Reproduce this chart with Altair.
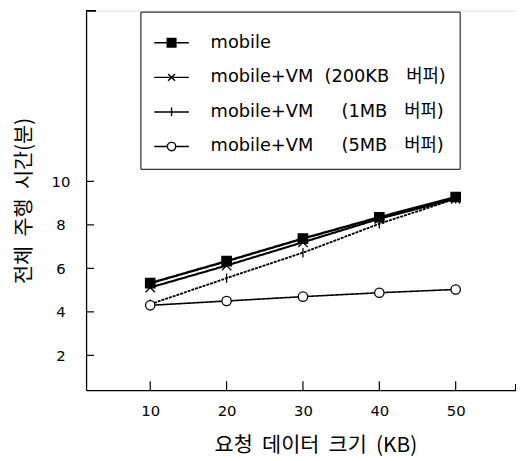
import altair as alt
import pandas as pd

NB = "\u00a0"
# ---- data ----
x_vals = [10, 20, 30, 40, 50]
series_names = [
    "mobile" + NB * 4,
    "mobile+VM" + NB * 2 + "(200KB" + NB * 3 + "버퍼)" + NB * 4,
    "mobile+VM" + NB * 5 + "(1MB" + NB * 3 + "버퍼)" + NB * 4,
    "mobile+VM" + NB * 5 + "(5MB" + NB * 3 + "버퍼)" + NB * 4,
]
mobile = [5.32, 6.33, 7.37, 8.35, 9.28]
vm_200kb = [5.12, 6.13, 7.2, 8.28, 9.2]
vm_1mb = [4.35, 5.55, 6.72, 8.05, 9.2]
vm_5mb = [4.3, 4.5, 4.7, 4.88, 5.03]
y_ticks = [2, 4, 6, 8, 10]
x_ticks = [10, 20, 30, 40, 50]
x_title = "요청" + NB * 2 + "데이터" + NB * 2 + "크기" + NB * 2 + "(KB)"
y_title = "전체" + NB * 2 + "주행" + NB * 2 + "시간(분)"

rows = []
for name, vals in zip(series_names, [mobile, vm_200kb, vm_1mb, vm_5mb]):
    for xv, yv in zip(x_vals, vals):
        rows.append({"series": name, "size": xv, "time": yv})
df = pd.DataFrame(rows)

W, H = 435, 384
FONT = "DejaVu Sans, Noto Sans CJK KR"
KFONT = "Noto Sans CJK KR"

xscale = alt.Scale(domain=[1.6, 57.9], nice=False, zero=False)
yscale = alt.Scale(domain=[0.4, 17.85], nice=False, zero=False)

X = alt.X("size:Q", scale=xscale,
          axis=alt.Axis(values=x_ticks, ticks=False, grid=False, domainColor="black",
                        domainWidth=1.3, labelFont=FONT, labelFontSize=15, labelColor="black",
                        labelPadding=14, title=x_title,
                        titleFont=KFONT, titleFontSize=21, titleFontWeight="normal",
                        titleColor="black", titleX=232, titleY=56, titleBaseline="middle"))
Y = alt.Y("time:Q", scale=yscale,
          axis=alt.Axis(values=y_ticks, ticks=False, grid=False, domainColor="black",
                        domainWidth=1.3, labelFont=FONT, labelFontSize=15, labelColor="black",
                        labelAlign="center", labelPadding=26, title=y_title,
                        titleFont=KFONT, titleFontSize=21, titleFontWeight="normal",
                        titleColor="black", titleX=-62, titleY=192, titleBaseline="middle"))

lines = alt.Chart(df).mark_line(color="black").encode(
    x=X, y=Y, detail="series:N",
    strokeWidth=alt.StrokeWidth("series:N", scale=alt.Scale(domain=series_names, range=[2.4, 1.6, 1.0, 1.5]), legend=None),
    strokeDash=alt.StrokeDash("series:N", scale=alt.Scale(domain=series_names, range=[[1, 0], [1, 0], [3, 1], [1, 0]]), legend=None),
)

marker_paths = [
    "M-1,-1L1,-1L1,1L-1,1Z",
    "M-1,-1L1,1M-1,1L1,-1",
    "M0,-1L0,1",
    "circle",
]
fills = ["black", "transparent", "transparent", "white"]
strokes = ["black", "black", "black", "black"]

points = alt.Chart(df).mark_point(filled=False, color="black", strokeWidth=1.3, size=90, opacity=1).encode(
    x="size:Q", y="time:Q",
    shape=alt.Shape("series:N", scale=alt.Scale(domain=series_names, range=marker_paths), legend=None),
    fill=alt.Fill("series:N", scale=alt.Scale(domain=series_names, range=fills), legend=None),
)

legend_paths = [
    "M-1,0L1,0M-0.25,-0.25L0.25,-0.25L0.25,0.25L-0.25,0.25Z",
    "M-1,0L1,0M-0.2,-0.2L0.2,0.2M-0.2,0.2L0.2,-0.2",
    "M-1,0L1,0M0,-0.25L0,0.25",
    "M-1,0L-0.24,0M0.24,0L1,0M-0.24,0A0.24,0.24 0 1,0 0.24,0A0.24,0.24 0 1,0 -0.24,0Z",
]
leg = alt.Legend(title=None, orient="none", legendX=55, legendY=1, strokeColor="black",
                 padding=13, labelFont=FONT, labelFontSize=18, labelColor="black",
                 labelOffset=21, symbolSize=1225, symbolStrokeWidth=1.4, symbolOpacity=1,
                 rowPadding=7, labelLimit=400)
legend_layer = alt.Chart(df).mark_point(filled=False, size=1225, opacity=0).encode(
    x="size:Q", y="time:Q",
    shape=alt.Shape("series:N", scale=alt.Scale(domain=series_names, range=legend_paths), legend=leg),
    fill=alt.Fill("series:N", scale=alt.Scale(domain=series_names, range=fills), legend=leg),
    stroke=alt.Stroke("series:N", scale=alt.Scale(domain=series_names, range=strokes), legend=leg),
)

ytick_df = pd.DataFrame({"v": y_ticks})
xtick_df = pd.DataFrame({"v": x_ticks})
yticks = alt.Chart(ytick_df).mark_rule(color="black", strokeWidth=1.2).encode(
    y=alt.Y("v:Q", scale=yscale), x=alt.value(0), x2=alt.value(8))
xticks = alt.Chart(xtick_df).mark_rule(color="black", strokeWidth=1.2).encode(
    x=alt.X("v:Q", scale=xscale), y=alt.value(H), y2=alt.value(H - 9))
top_stub = alt.Chart(ytick_df).mark_rule(color="black", strokeWidth=1.2).encode(
    y=alt.value(0), x=alt.value(0), x2=alt.value(10))
right_stub = alt.Chart(ytick_df).mark_rule(color="black", strokeWidth=1.2).encode(
    x=alt.value(W), y=alt.value(H), y2=alt.value(H - 6))

chart = alt.layer(lines, points, legend_layer, yticks, xticks, top_stub, right_stub).resolve_scale(
    shape="independent", fill="independent", stroke="independent",
    strokeWidth="independent", strokeDash="independent"
).properties(
    width=W, height=H,
    autosize=alt.AutoSizeParams(type="none"),
    padding={"left": 79, "top": 0, "right": 0, "bottom": 69},
).configure_view(stroke=None).configure(background="white")

chart.save("out.html", embed_options={"renderer": "svg", "actions": False})
